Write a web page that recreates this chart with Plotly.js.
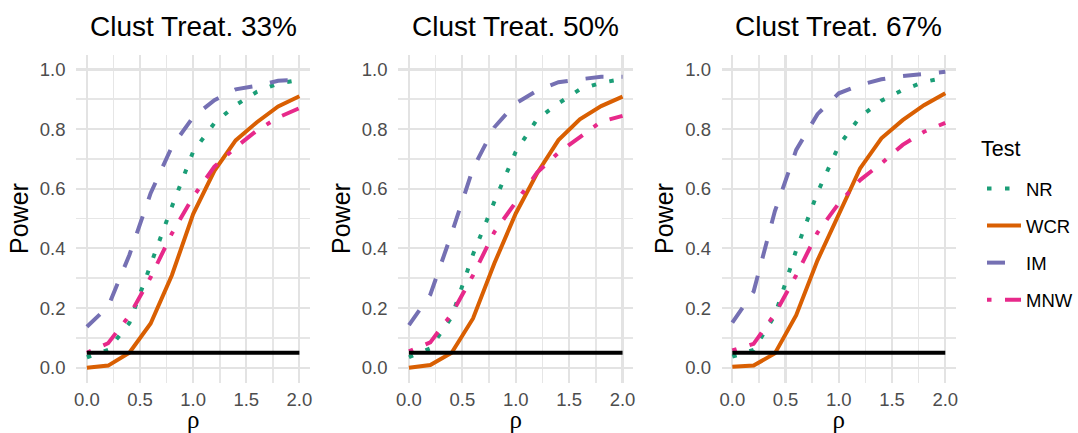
<!DOCTYPE html>
<html>
<head>
<meta charset="utf-8">
<script src="https://cdn.plot.ly/plotly-3.0.1.min.js"></script>
<style>html,body{margin:0;padding:0;background:#fff}#chart{width:1078px;height:433px}</style>
</head>
<body>
<div id="chart"></div>
<script>
// ---- data ----
const rho = [0, 0.2, 0.4, 0.6, 0.8, 1.0, 1.2, 1.4, 1.6, 1.8, 2.0];
const panelTitles = ["Clust Treat. 33%", "Clust Treat. 50%", "Clust Treat. 67%"];
const tests = ["NR", "WCR", "IM", "MNW"];
const legendTitle = "Test";
const alphaLevel = [0.05, 0.05];
const alphaX = [0, 2];

const nr33  = [0.035, 0.06, 0.15, 0.345, 0.54, 0.724, 0.82, 0.88, 0.925, 0.953, 0.965];
const wcr33 = [0.0, 0.007, 0.05, 0.148, 0.31, 0.515, 0.66, 0.762, 0.823, 0.876, 0.91];
const im33  = [0.137, 0.205, 0.378, 0.585, 0.741, 0.84, 0.897, 0.933, 0.945, 0.962, 0.965];
const mnw33 = [0.05, 0.082, 0.175, 0.303, 0.45, 0.573, 0.674, 0.739, 0.795, 0.839, 0.87];

const nr50  = [0.035, 0.065, 0.17, 0.38, 0.557, 0.724, 0.833, 0.886, 0.933, 0.955, 0.968];
const wcr50 = [0.0, 0.009, 0.05, 0.165, 0.35, 0.517, 0.652, 0.763, 0.833, 0.877, 0.909];
const im50  = [0.143, 0.245, 0.45, 0.668, 0.806, 0.886, 0.929, 0.957, 0.967, 0.975, 0.975];
const mnw50 = [0.055, 0.085, 0.18, 0.31, 0.455, 0.557, 0.654, 0.721, 0.774, 0.825, 0.844];

const nr67  = [0.037, 0.06, 0.176, 0.394, 0.587, 0.744, 0.841, 0.895, 0.931, 0.958, 0.973];
const wcr67 = [0.003, 0.007, 0.048, 0.176, 0.36, 0.518, 0.668, 0.769, 0.83, 0.88, 0.92];
const im67  = [0.151, 0.255, 0.525, 0.73, 0.85, 0.92, 0.948, 0.967, 0.978, 0.985, 0.992];
const mnw67 = [0.058, 0.08, 0.18, 0.31, 0.453, 0.551, 0.629, 0.685, 0.747, 0.791, 0.821];

const xTickVals = [0, 0.5, 1, 1.5, 2];
const xTickText = ["0.0", "0.5", "1.0", "1.5", "2.0"];
const yTickVals = [0, 0.2, 0.4, 0.6, 0.8, 1.0];
const yTickText = ["0.0", "0.2", "0.4", "0.6", "0.8", "1.0"];

// ---- styles ----
const colors = {NR: "#1B9E77", WCR: "#D95F02", IM: "#7570B3", MNW: "#E7298A"};
const dashes = {NR: "4.5px,13.5px", WCR: "solid", IM: "18px,18px", MNW: "4.5px,13.5px,18px,13.5px"};
const LW = 4;
const FONT = "Liberation Sans, Arial, sans-serif";
const SERIF = "Liberation Serif, DejaVu Serif, serif";

const panels = [
  {NR: nr33, WCR: wcr33, IM: im33, MNW: mnw33},
  {NR: nr50, WCR: wcr50, IM: im50, MNW: mnw50},
  {NR: nr67, WCR: wcr67, IM: im67, MNW: mnw67}
];

const W = 1078, H = 433;
const xPix = [[76.4, 310.6], [399.0, 634.4], [723.0, 957.7]];
const yPix = [54.5, 382.6];

const traces = [];
panels.forEach((p, i) => {
  const ax = i === 0 ? "" : String(i + 1);
  tests.forEach(t => {
    traces.push({
      x: rho, y: p[t], type: "scatter", mode: "lines",
      name: t, legendgroup: t, showlegend: i === 0,
      xaxis: "x" + ax, yaxis: "y" + ax,
      line: {color: colors[t], width: LW, dash: dashes[t]},
      hoverinfo: "skip"
    });
  });
  traces.push({
    x: alphaX, y: alphaLevel, type: "scatter", mode: "lines",
    showlegend: false, xaxis: "x" + ax, yaxis: "y" + ax,
    line: {color: "#000000", width: 4}, hoverinfo: "skip"
  });
});

const grid = {
  showgrid: true, gridcolor: "#E3E3E3", gridwidth: 2.2,
  zeroline: false, showline: false,
  ticks: "outside", tickcolor: "rgba(0,0,0,0)",
  tickfont: {family: FONT, size: 18.5, color: "#4D4D4D"}
};

const layout = {
  width: W, height: H,
  margin: {l: 0, r: 0, t: 0, b: 0},
  paper_bgcolor: "#ffffff", plot_bgcolor: "#ffffff",
  font: {family: FONT, color: "#000"},
  showlegend: true,
  legend: {
    x: 984 / W, y: 1 - 170 / H, xanchor: "left", yanchor: "top",
    font: {family: FONT, size: 18.5, color: "#000"},
    itemwidth: 34,
    tracegroupgap: 10, bgcolor: "rgba(0,0,0,0)"
  },
  annotations: [{
    text: legendTitle, xref: "paper", yref: "paper",
    x: 981 / W, y: 1 - 149 / H, xanchor: "left", yanchor: "middle",
    showarrow: false, font: {family: FONT, size: 21.5, color: "#000"}
  }],
  shapes: []
};

panels.forEach((p, i) => {
  const ax = i === 0 ? "" : String(i + 1);
  layout["xaxis" + ax] = Object.assign({}, grid, {
    domain: [xPix[i][0] / W, xPix[i][1] / W],
    range: [-0.1, 2.1], anchor: "y" + ax, ticklen: 0,
    tickvals: xTickVals, ticktext: xTickText,
    minor: {dtick: 0.25, tick0: 0, showgrid: true, gridcolor: "#E6E6E6", gridwidth: 1.6, ticks: ""},
    title: {text: "ρ", font: {family: SERIF, size: 25, color: "#000"}, standoff: 3}
  });
  layout["yaxis" + ax] = Object.assign({}, grid, {
    domain: [1 - yPix[1] / H, 1 - yPix[0] / H],
    range: [-0.05, 1.05], anchor: "x" + ax, ticklen: 6,
    tickvals: yTickVals, ticktext: yTickText,
    minor: {dtick: 0.1, tick0: 0, showgrid: true, gridcolor: "#E6E6E6", gridwidth: 1.6, ticks: ""},
    title: {text: "Power", font: {family: FONT, size: 25, color: "#000"}, standoff: 4}
  });
  layout.annotations.push({
    text: panelTitles[i], xref: "x" + ax + " domain", x: 0.5,
    yref: "paper", y: 1 - 26.5 / H, xanchor: "center", yanchor: "middle",
    showarrow: false, font: {family: FONT, size: 28, color: "#000"}
  });
});

Plotly.newPlot("chart", traces, layout, {staticPlot: true, displayModeBar: false});
</script>
</body>
</html>
